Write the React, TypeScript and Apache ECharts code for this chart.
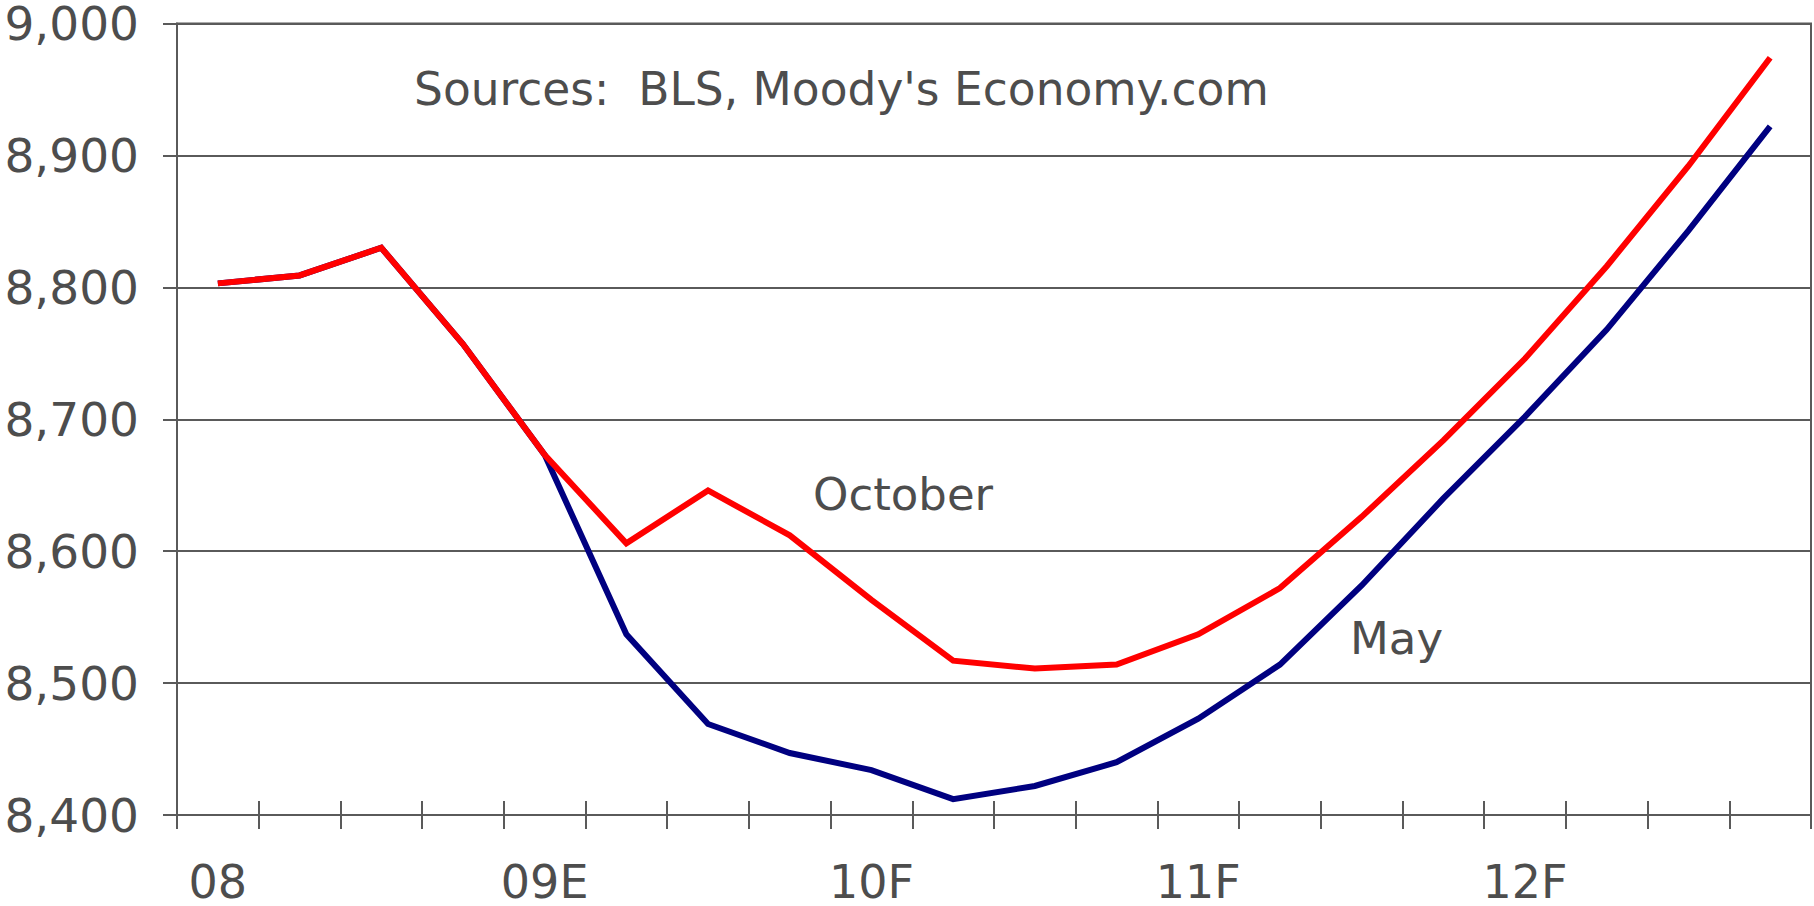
import React, { useEffect, useRef } from "react";
import * as echarts from "echarts";

const quarters = [
  "08Q1", "08Q2", "08Q3", "08Q4",
  "09Q1", "09Q2", "09Q3", "09Q4",
  "10Q1", "10Q2", "10Q3", "10Q4",
  "11Q1", "11Q2", "11Q3", "11Q4",
  "12Q1", "12Q2", "12Q3", "12Q4",
];
const yearLabels = ["08", "09E", "10F", "11F", "12F"];

const mayValues = [
  8803, 8809, 8830, 8757, 8673, 8537, 8469, 8447, 8434, 8412,
  8422, 8440, 8473, 8514, 8574, 8640, 8702, 8768, 8843, 8922,
];
const octoberValues = [
  8803, 8809, 8830, 8757, 8673, 8606, 8646, 8612, 8563, 8517,
  8511, 8514, 8537, 8572, 8626, 8684, 8746, 8816, 8892, 8974,
];

const yMin = 8400;
const yMax = 9000;
const yStep = 100;

const sourceText = "Sources:  BLS, Moody's Economy.com";
const octoberLabel = "October";
const mayLabel = "May";

const FONT = "'DejaVu Sans', Verdana, sans-serif";
const TEXT = "#4d4d4d";
const AXIS = "#5a5a5a";

export default function App() {
  const ref = useRef<HTMLDivElement>(null);

  useEffect(() => {
    if (!ref.current) return;
    const chart = echarts.init(ref.current, undefined, { renderer: "svg" });
    chart.setOption({
      animation: false,
      backgroundColor: "#ffffff",
      grid: {
        left: 177,
        right: 3,
        top: 18,
        bottom: 91,
        show: true,
        borderColor: AXIS,
        borderWidth: 2,
        containLabel: false,
      },
      xAxis: [
        {
          type: "category",
          data: quarters,
          boundaryGap: true,
          axisLine: { show: true, lineStyle: { color: AXIS, width: 2 } },
          axisTick: {
            show: true,
            interval: 0,
            length: 14,
            inside: false,
            lineStyle: { color: AXIS, width: 2 },
          },
          axisLabel: {
            interval: 3,
            margin: 44,
            fontFamily: FONT,
            fontSize: 46,
            color: TEXT,
            formatter: (_v: string, i: number) => yearLabels[Math.floor(i / 4)] ?? "",
          },
          splitLine: { show: false },
        },
        {
          type: "category",
          data: quarters,
          boundaryGap: true,
          position: "bottom",
          axisLine: { show: false },
          axisTick: {
            show: true,
            interval: 0,
            length: 14,
            inside: true,
            lineStyle: { color: AXIS, width: 2 },
          },
          axisLabel: { show: false },
          splitLine: { show: false },
        },
      ],
      yAxis: {
        type: "value",
        min: yMin,
        max: yMax,
        interval: yStep,
        axisLine: { show: true, lineStyle: { color: AXIS, width: 2 } },
        axisTick: { show: true, length: 14, lineStyle: { color: AXIS, width: 2 } },
        axisLabel: {
          margin: 38,
          fontFamily: FONT,
          fontSize: 47,
          color: TEXT,
          formatter: (v: number) => v.toLocaleString("en-US"),
        },
        splitLine: { show: true, lineStyle: { color: AXIS, width: 2 } },
      },
      series: [
        {
          name: "May",
          type: "line",
          data: mayValues,
          symbol: "none",
          lineStyle: { color: "#000080", width: 6, join: "miter" },
          z: 2,
        },
        {
          name: "October",
          type: "line",
          data: octoberValues,
          symbol: "none",
          lineStyle: { color: "#ff0000", width: 6, join: "miter" },
          z: 3,
        },
      ],
      graphic: [
        {
          type: "text",
          left: 414,
          top: 66,
          style: { text: sourceText, font: `45.5px ${FONT}`, fill: TEXT },
        },
        {
          type: "text",
          left: 813,
          top: 472,
          style: { text: octoberLabel, font: `45px ${FONT}`, fill: TEXT },
        },
        {
          type: "text",
          left: 1350,
          top: 616,
          style: { text: mayLabel, font: `45px ${FONT}`, fill: TEXT },
        },
      ],
    });
    return () => chart.dispose();
  }, []);

  return (
    <div
      ref={ref}
      style={{ position: "fixed", left: 0, top: 0, width: 1814, height: 906 }}
    />
  );
}
